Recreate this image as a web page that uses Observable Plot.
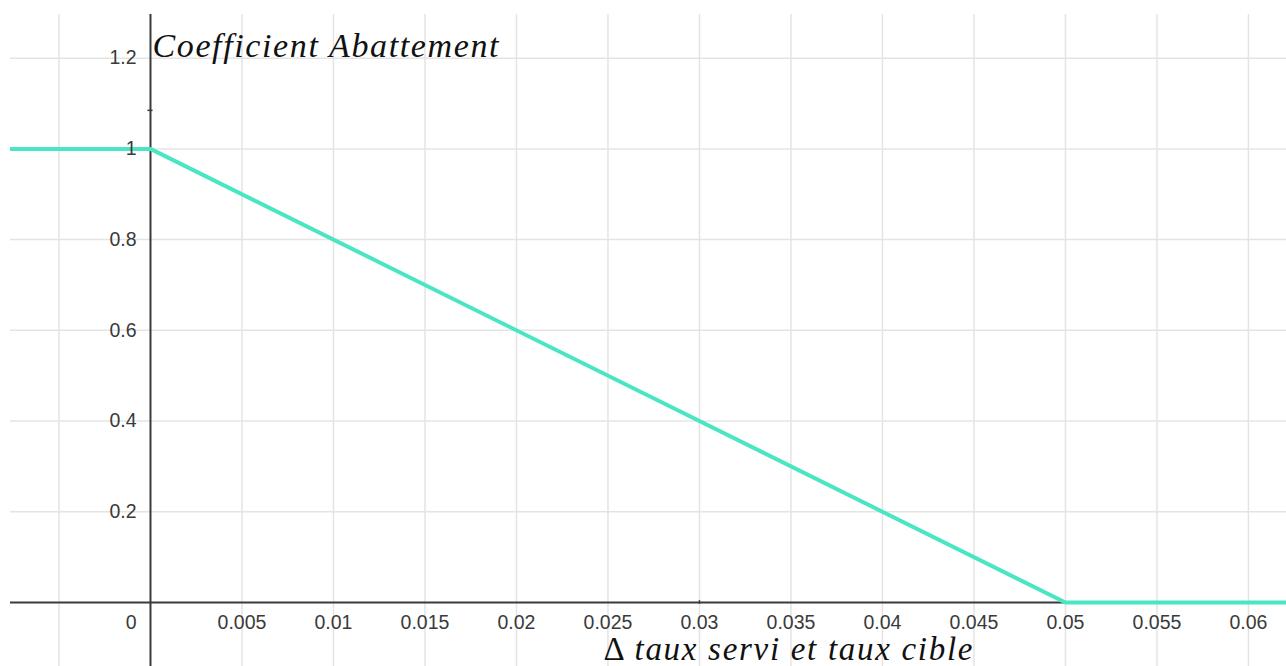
<!DOCTYPE html>
<html>
<head>
<meta charset="utf-8">
<script src="https://cdn.jsdelivr.net/npm/d3@7"></script>
<script src="https://cdn.jsdelivr.net/npm/@observablehq/plot@0.6"></script>
<style>
  html, body { margin: 0; padding: 0; background: #fff; }
  #chart svg { display: block; }
</style>
</head>
<body>
<div id="chart"></div>
<script>
// Data
const curveX = [-0.008, 0, 0.05, 0.063];
const curveY = [1, 1, 0, 0];
const xTicks = [0.005, 0.01, 0.015, 0.02, 0.025, 0.03, 0.035, 0.04, 0.045, 0.05, 0.055, 0.06];
const xTickLabels = ["0.005", "0.01", "0.015", "0.02", "0.025", "0.03", "0.035", "0.04", "0.045", "0.05", "0.055", "0.06"];
const xGrid = [-0.005, 0.005, 0.01, 0.015, 0.02, 0.025, 0.03, 0.035, 0.04, 0.045, 0.05, 0.055, 0.06];
const yTicks = [0.2, 0.4, 0.6, 0.8, 1, 1.2];
const yTickLabels = ["0.2", "0.4", "0.6", "0.8", "1", "1.2"];
const yTitle = "Coefficient Abattement";
const xTitleSymbol = "Δ";
const xTitleText = "taux servi et taux cible";

const curve = curveX.map((x, i) => ({x, y: curveY[i]}));
const xLab = xTicks.map((x, i) => ({x, label: xTickLabels[i]}));
const yLab = yTicks.map((y, i) => ({y, label: yTickLabels[i]}));

const labelFont = "'Liberation Sans', Arial, sans-serif";
const titleFont = "'Liberation Serif', 'Times New Roman', serif";

const chart = Plot.plot({
  width: 1286,
  height: 666,
  marginLeft: 10,
  marginTop: 14,
  marginRight: 0,
  marginBottom: 0,
  x: {domain: [-0.00765, 0.06208], axis: null},
  y: {domain: [-0.1411, 1.2963], axis: null},
  style: {background: "#fff"},
  marks: [
    Plot.ruleX(xGrid, {stroke: "#e4e4e4", strokeWidth: 1.5}),
    Plot.ruleY(yTicks, {stroke: "#e4e4e4", strokeWidth: 1.5}),
    Plot.ruleY([0], {stroke: "#3a3a3a", strokeWidth: 2}),
    Plot.ruleX([0], {stroke: "#3a3a3a", strokeWidth: 2}),
    Plot.ruleY([1.085], {x1: -0.00014, x2: 0.00014, stroke: "#3a3a3a", strokeWidth: 1.5}),
    Plot.ruleX([0.03], {y1: -0.004, y2: 0.004, stroke: "#3a3a3a", strokeWidth: 1.5}),
    Plot.line(curve, {x: "x", y: "y", stroke: "#4ae6c3", strokeWidth: 4, clip: true}),
    Plot.text(xLab, {x: "x", y: () => 0, text: "label", dy: 20, fontSize: 19.5, fill: "#3a3a3a", fontFamily: labelFont}),
    Plot.text(["0"], {x: () => 0, y: () => 0, text: d => d, dy: 20, dx: -14, textAnchor: "end", fontSize: 19.5, fill: "#3a3a3a", fontFamily: labelFont}),
    Plot.text(yLab, {x: () => 0, y: "y", text: "label", dx: -14, textAnchor: "end", fontSize: 19.5, fill: "#3a3a3a", fontFamily: labelFont}),
    Plot.text([yTitle], {x: () => 0, y: () => 1.2, text: d => d, dx: 2, dy: -1, textAnchor: "start", lineAnchor: "bottom", fontSize: 34, fontStyle: "italic", fill: "#111", fontFamily: titleFont, className: "ytitle"}),
    Plot.text([xTitleText], {x: () => 0.035, y: () => 0, text: d => d, dx: -3, dy: 58, textAnchor: "middle", lineAnchor: "bottom", fontSize: 33, fontStyle: "italic", fill: "#111", fontFamily: titleFont, className: "xtitle"})
  ]
});

document.getElementById("chart").appendChild(chart);

// Adjust title spacing to match the LaTeX-like rendering
const svg = d3.select(chart);
svg.selectAll(".ytitle text").attr("textLength", 346).attr("lengthAdjust", "spacing");
svg.selectAll(".xtitle text").each(function() {
  const t = d3.select(this);
  const txt = t.text();
  t.text(null);
  t.append("tspan").attr("font-style", "normal").text(xTitleSymbol + " ");
  t.append("tspan").text(txt);
  t.attr("textLength", 369).attr("lengthAdjust", "spacing");
});
</script>
</body>
</html>
